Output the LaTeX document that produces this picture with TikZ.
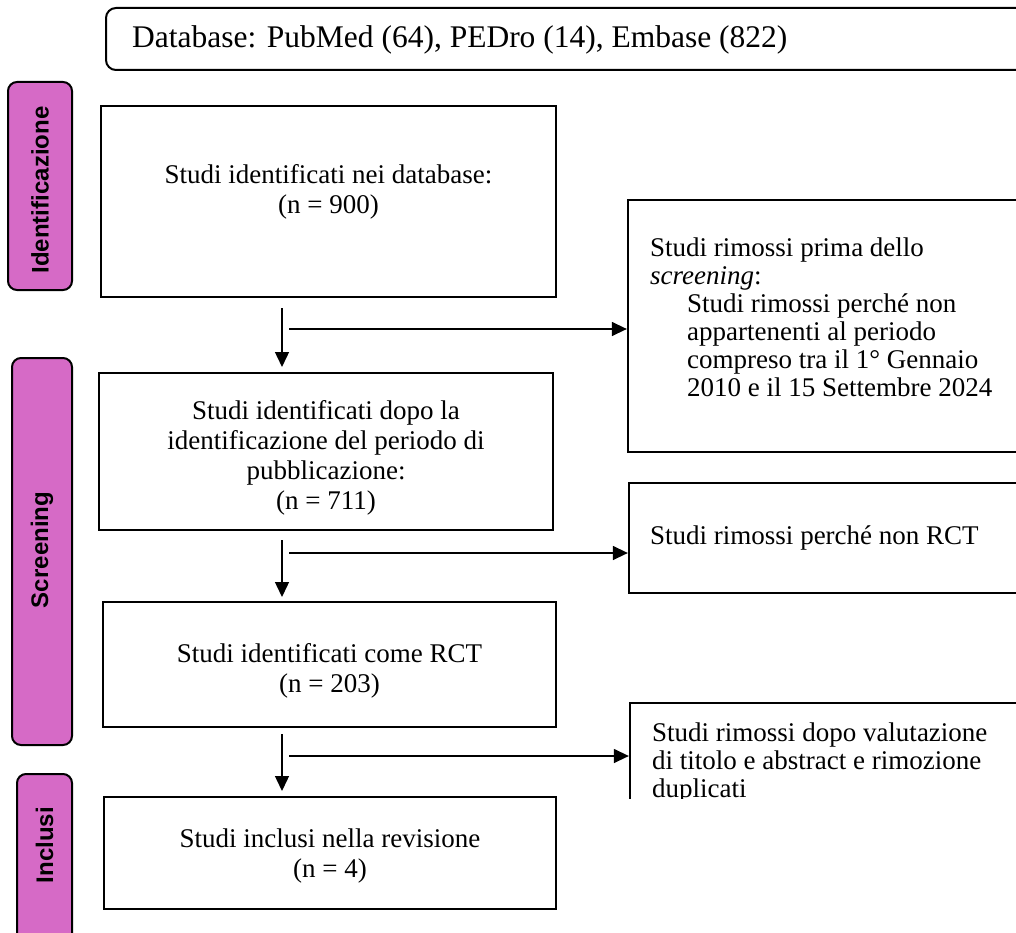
\documentclass[tikz,border=0pt]{standalone}
\usepackage{fontspec}
\setmainfont{Liberation Serif}
\newfontfamily\labelfont{Liberation Sans}
\usetikzlibrary{arrows.meta,calc}
\definecolor{phase}{RGB}{214,106,198}

\begin{document}
\begin{tikzpicture}[x=1pt,y=-1pt,
  box/.style={draw, line width=2.3pt, rectangle, inner sep=0pt, fill=white},
  phasebox/.style={draw, line width=2pt, fill=phase, rounded corners=9pt, inner sep=0pt},
  phaselabel/.style={font=\labelfont\bfseries\fontsize{24}{28}\selectfont, rotate=90, inner sep=0pt},
  bodytext/.style={font=\fontsize{27}{30}\selectfont, align=center, inner sep=0pt},
  sidetext/.style={font=\fontsize{27}{28}\selectfont, align=left, inner sep=0pt, anchor=west},
  arr/.style={line width=1.4pt, -{Triangle[length=15pt,width=14pt]}}
]
\useasboundingbox (0,0) rectangle (1016,933);
\clip (0,0) rectangle (1016,933);

% source databases
\node[draw, line width=2pt, rounded corners=10pt, minimum width=934pt, minimum height=62pt, inner sep=0pt] (db) at (573,39) {};
\node[font=\fontsize{31.5}{36}\selectfont, anchor=west, inner sep=0pt] (dbt) at (132,40) {Database: PubMed (64), PEDro (14), Embase (822)};

% phase bars
\node[phasebox, minimum width=64pt, minimum height=208pt] (p1) at (40,186) {};
\node[phaselabel] (p1t) at (40,190) {Identificazione};
\node[phasebox, minimum width=60pt, minimum height=387pt] (p2) at (42,551.5) {};
\node[phaselabel] (p2t) at (42,550) {Screening};
\node[phasebox, minimum width=55pt, minimum height=186pt] (p3) at (44.5,867) {};
\node[phaselabel] (p3t) at (44.5,845) {Inclusi};

% main flow
\node[box, minimum width=455pt, minimum height=191pt] (b1) at (328.5,201.5) {};
\node[bodytext] (b1t) at (328.5,192) {Studi identificati nei database:\\(n = 900)};

\node[box, minimum width=454pt, minimum height=157pt] (b2) at (326,451.5) {};
\node[bodytext] (b2t) at (326,458) {Studi identificati dopo la\\identificazione del periodo di\\pubblicazione:\\(n = 711)};

\node[box, minimum width=453pt, minimum height=125pt] (b3) at (329.5,664.5) {};
\node[bodytext] (b3t) at (329.5,671) {Studi identificati come RCT\\(n = 203)};

\node[box, minimum width=452pt, minimum height=112pt] (b4) at (330,853) {};
\node[bodytext] (b4t) at (330,856) {Studi inclusi nella revisione\\(n = 4)};

% exclusions
\node[box, minimum width=412pt, minimum height=252pt] (r1) at (834,326) {};
\node[sidetext] (r1t) at (650,317) {Studi rimossi prima dello\\\textit{screening}:\\\hspace*{37pt}Studi rimossi perché non\\\hspace*{37pt}appartenenti al periodo\\\hspace*{37pt}compreso tra il 1° Gennaio\\\hspace*{37pt}2010 e il 15 Settembre 2024};

\node[box, minimum width=411pt, minimum height=110pt] (r2) at (834.5,538) {};
\node[sidetext] (r2t) at (650,538) {Studi rimossi perché non RCT};

\begin{scope}
  \clip (600,690) rectangle (1030,798);
  \node[box, minimum width=410pt, minimum height=200pt] (r3) at (835,803) {};
  \node[sidetext] (r3t) at (652,763) {Studi rimossi dopo valutazione\\di titolo e abstract e rimozione\\duplicati};
\end{scope}

% connectors
\coordinate (v1s) at (282,308);
\coordinate (v1e) at (282,367);
\coordinate (h1) at (289,329);
\coordinate (v2s) at (282,540);
\coordinate (v2e) at (282,597);
\coordinate (h2) at (289,553);
\coordinate (v3s) at (282,734);
\coordinate (v3e) at (282,791);
\coordinate (h3) at (289,756);

\draw[arr] (v1s) -- (v1e);
\draw[arr] (h1) -- (h1 -| r1.west);
\draw[arr] (v2s) -- (v2e);
\draw[arr] (h2) -- (h2 -| r2.west);
\draw[arr] (v3s) -- (v3e);
\draw[arr] (h3) -- (h3 -| r3.west);
\end{tikzpicture}
\end{document}
